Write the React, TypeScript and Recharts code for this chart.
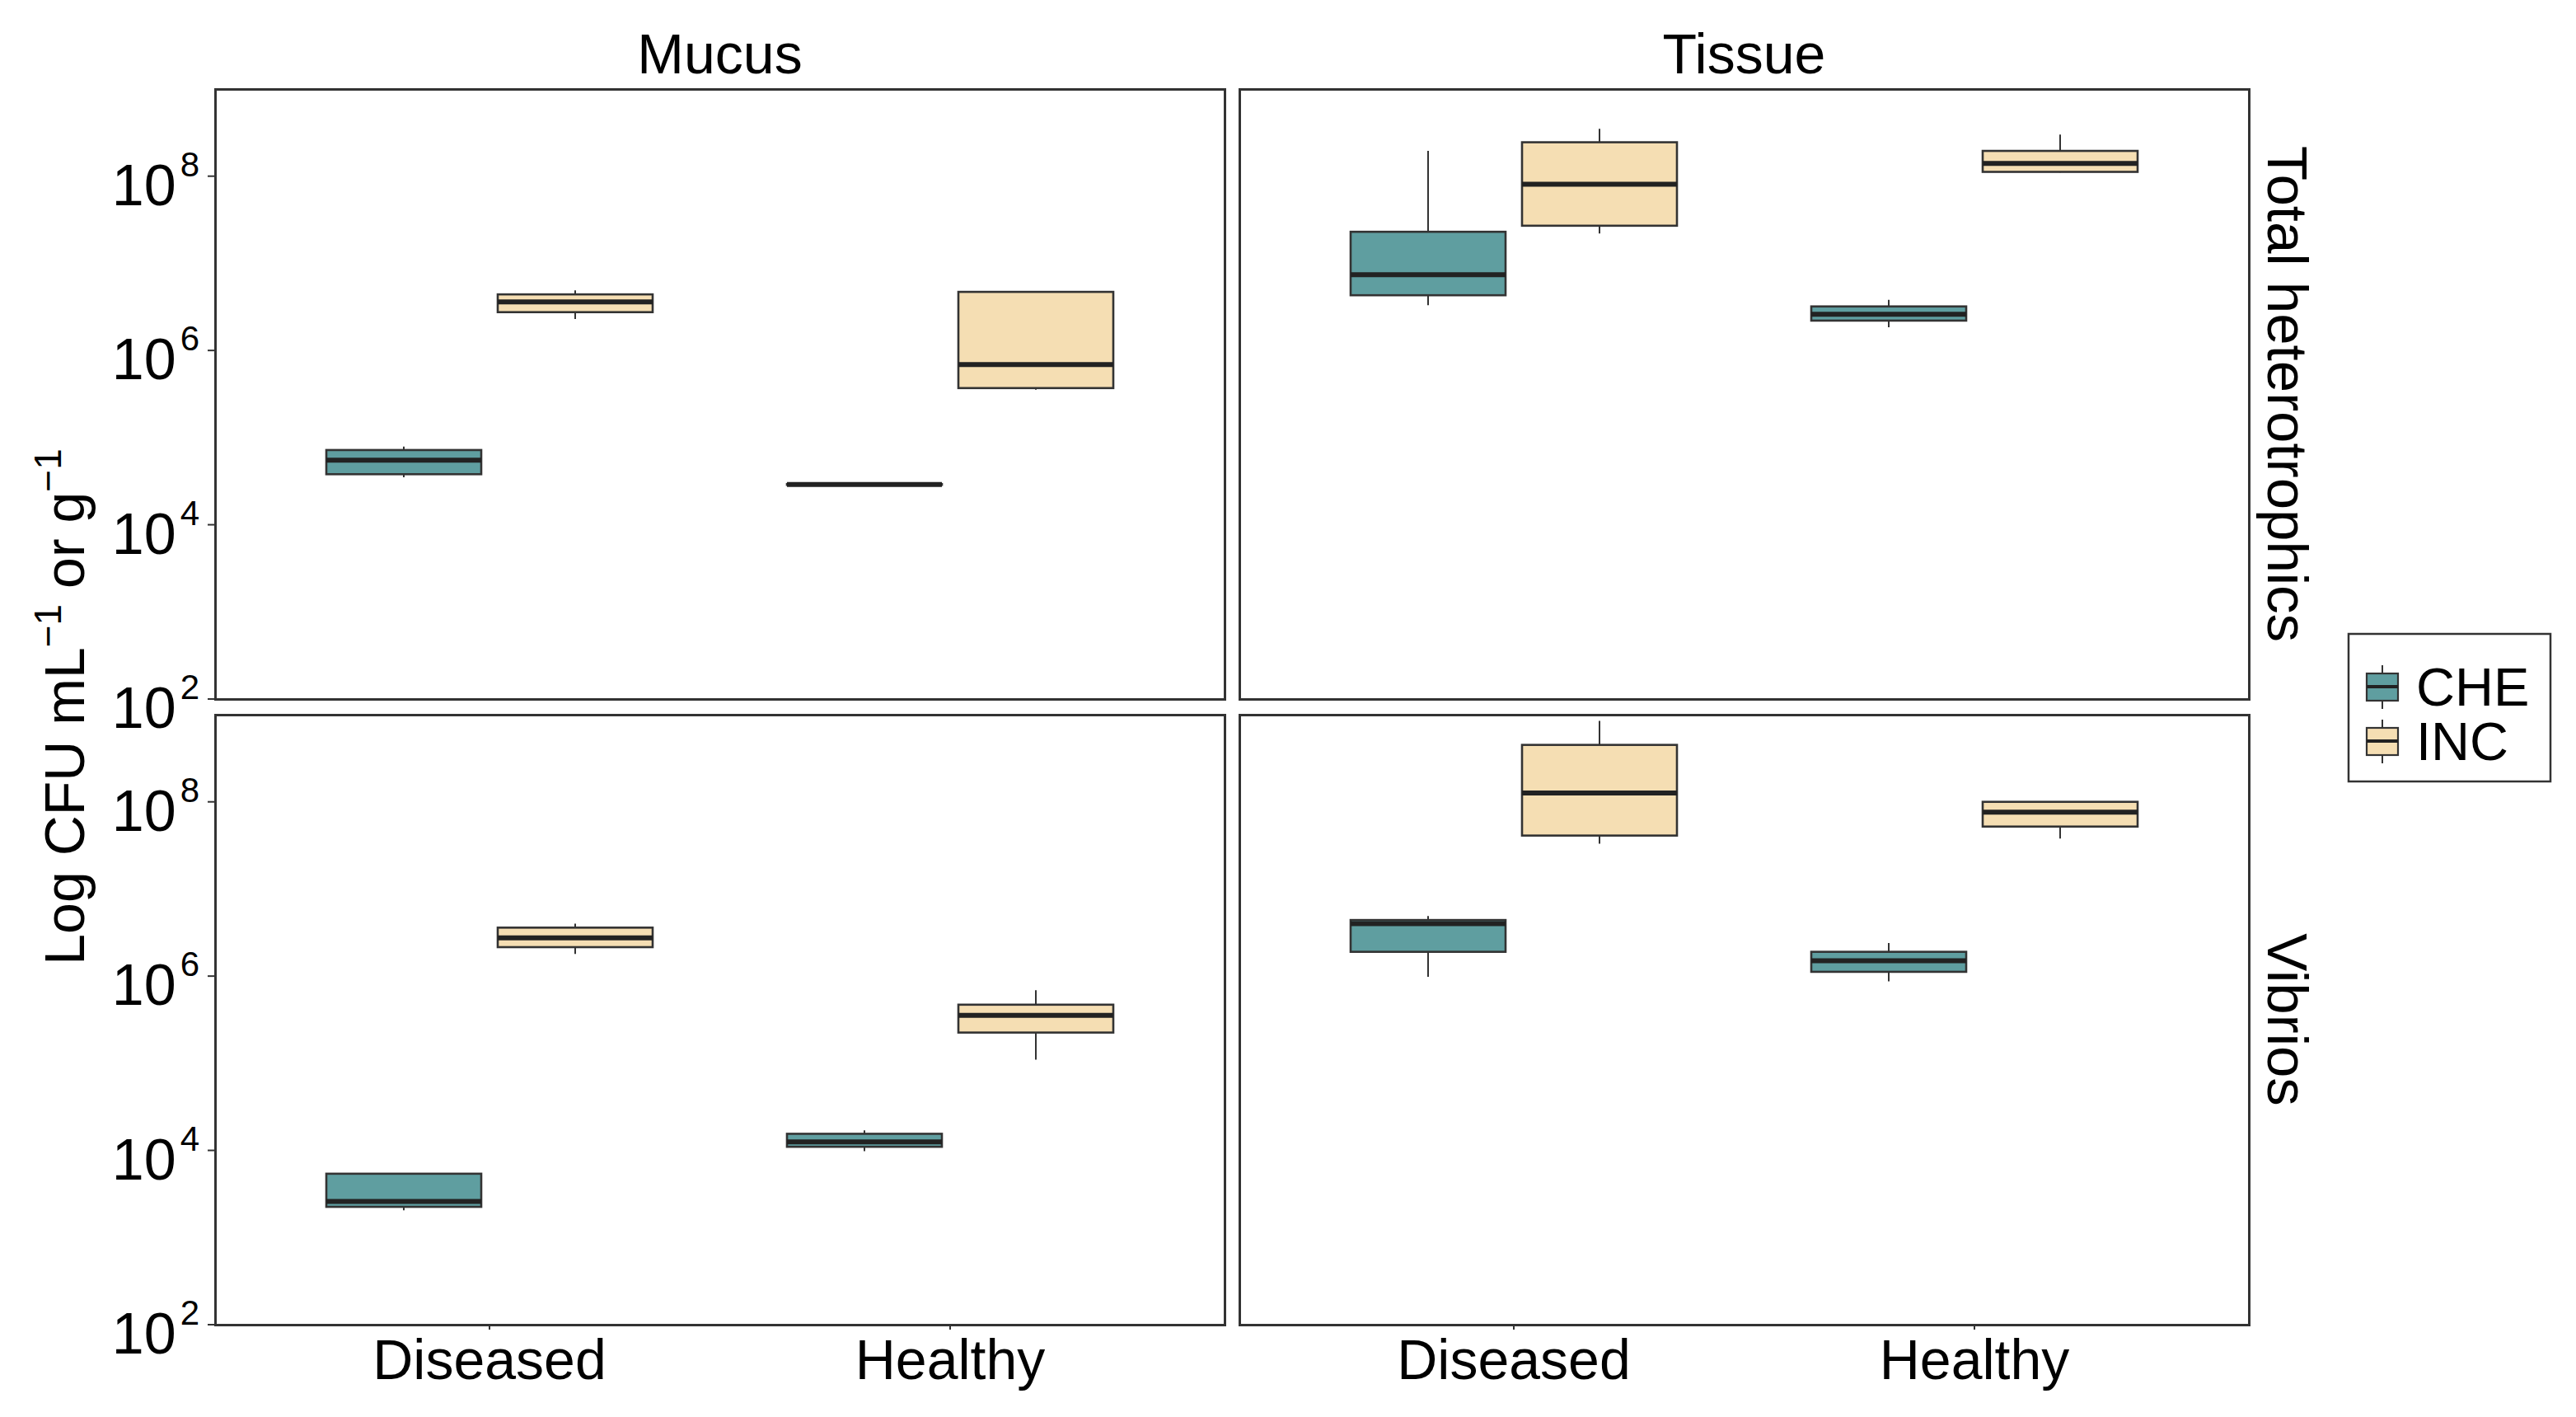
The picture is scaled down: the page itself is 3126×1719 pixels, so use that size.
import React from 'react';
import { BarChart, Bar, XAxis, YAxis } from 'recharts';

// ---- data (CFU values) ----
const categories = ['Diseased', 'Healthy'];
const groups = ['CHE', 'INC'];
const tissues = ['Mucus', 'Tissue'];
const measures = ['Total heterotrophics', 'Vibrios'];
const yTickExponents = [2, 4, 6, 8];

// each box: [min, q1, median, q3, max]; one entry per category (Diseased, Healthy)
const mucusTotalCHE = [
  [3.5e4, 3.8e4, 5.5e4, 7.2e4, 7.9e4],
  [2.85e4, 2.87e4, 2.9e4, 2.93e4, 2.95e4],
];
const mucusTotalINC = [
  [2.3e6, 2.75e6, 3.6e6, 4.4e6, 4.9e6],
  [3.55e5, 3.7e5, 6.9e5, 4.7e6, 4.7e6],
];
const tissueTotalCHE = [
  [3.3e6, 4.3e6, 7.4e6, 2.3e7, 1.95e8],
  [1.85e6, 2.2e6, 2.6e6, 3.2e6, 3.8e6],
];
const tissueTotalINC = [
  [2.2e7, 2.7e7, 8.1e7, 2.45e8, 3.5e8],
  [1.1e8, 1.12e8, 1.4e8, 1.95e8, 3.0e8],
];
const mucusVibrioCHE = [
  [2.05e3, 2.25e3, 2.6e3, 5.4e3, 5.4e3],
  [9.8e3, 1.1e4, 1.25e4, 1.55e4, 1.7e4],
];
const mucusVibrioINC = [
  [1.8e6, 2.15e6, 2.75e6, 3.6e6, 4.0e6],
  [1.1e5, 2.25e5, 3.55e5, 4.7e5, 6.9e5],
];
const tissueVibrioCHE = [
  [9.8e5, 1.9e6, 4.0e6, 4.4e6, 4.9e6],
  [8.7e5, 1.12e6, 1.5e6, 1.9e6, 2.4e6],
];
const tissueVibrioINC = [
  [3.3e7, 4.1e7, 1.26e8, 4.5e8, 8.5e8],
  [3.8e7, 5.2e7, 7.6e7, 1.0e8, 1.0e8],
];

const colors: Record<string, string> = { CHE: '#5F9EA0', INC: '#F5DEB3' };
const FONT = '"Liberation Sans", Arial, Helvetica, sans-serif';
const LINE = '#333333';

// ---- layout ----
const PW = 1225;
const PH = 740;
const PX = [261, 1504];
const PY = [108, 867];
const YAXW = 261;

function buildData(che: number[][], inc: number[][]) {
  return categories.map((c, i) => {
    const cl = che[i].map((v) => Math.log10(v));
    const il = inc[i].map((v) => Math.log10(v));
    return {
      cat: c,
      CHE: [cl[0], cl[4]],
      CHEs: cl,
      INC: [il[0], il[4]],
      INCs: il,
    };
  });
}

const panels = [
  { row: 0, col: 0, data: buildData(mucusTotalCHE, mucusTotalINC) },
  { row: 0, col: 1, data: buildData(tissueTotalCHE, tissueTotalINC) },
  { row: 1, col: 0, data: buildData(mucusVibrioCHE, mucusVibrioINC) },
  { row: 1, col: 1, data: buildData(tissueVibrioCHE, tissueVibrioINC) },
];

function BoxShape(props: any) {
  const { x, y, width, height, payload, group } = props;
  const stats: number[] = payload[group + 's'];
  const top = Math.min(y, y + height);
  const bot = Math.max(y, y + height);
  const [mn, q1, md, q3, mx] = stats;
  const span = mx - mn;
  const py = (v: number) => (span > 0 ? top + ((bot - top) * (mx - v)) / span : top);
  const cx = x + width / 2;
  return (
    <g>
      <line x1={cx} x2={cx} y1={py(mx)} y2={py(q3)} stroke={LINE} strokeWidth={2} />
      <line x1={cx} x2={cx} y1={py(q1)} y2={py(mn)} stroke={LINE} strokeWidth={2} />
      <rect
        x={x}
        y={py(q3)}
        width={width}
        height={Math.max(0, py(q1) - py(q3))}
        fill={colors[group]}
        stroke={LINE}
        strokeWidth={2.6}
      />
      <line x1={x} x2={x + width} y1={py(md)} y2={py(md)} stroke="#222" strokeWidth={6} />
    </g>
  );
}

const YTick = (props: any) => {
  const { x, y, payload } = props;
  return (
    <text x={x} y={y + 35} textAnchor="end" fontSize={70} fill="#000" fontFamily={FONT}>
      10
      <tspan dx={5} dy={-35} fontSize={42}>
        {payload.value}
      </tspan>
    </text>
  );
};

const XTick = (props: any) => {
  const { x, y, payload } = props;
  return (
    <text x={x} y={y + 60} textAnchor="middle" fontSize={68} fill="#000" fontFamily={FONT}>
      {payload.value}
    </text>
  );
};

function Panel({ row, col, data }: any) {
  const isLeft = col === 0;
  const isBottom = row === 1;
  const xAxH = isBottom ? 110 : 70;
  const w = PW + (isLeft ? YAXW : 0);
  const h = PH + xAxH;
  const left = PX[col] - (isLeft ? YAXW : 0);
  return (
    <div style={{ position: 'absolute', left, top: PY[row], width: w, height: h, zIndex: isBottom ? 1 : 2 }}>
      <BarChart
        width={w}
        height={h}
        data={data}
        margin={{ top: 0, right: 0, left: 0, bottom: isBottom ? 0 : xAxH }}
        barCategoryGap={81.5}
        barGap={20}
        style={{ overflow: 'visible' }}
      >
        <XAxis
          dataKey="cat"
          hide={!isBottom}
          height={isBottom ? xAxH : 0}
          padding={{ left: 53.5, right: 53.5 }}
          axisLine={false}
          tickLine={{ stroke: LINE, strokeWidth: 2 }}
          tickSize={6}
          tickMargin={0}
          tick={<XTick />}
          interval={0}
        />
        <YAxis
          type="number"
          domain={[2, 9]}
          allowDataOverflow
          ticks={yTickExponents}
          hide={!isLeft}
          width={isLeft ? YAXW : 0}
          axisLine={false}
          tickLine={{ stroke: LINE, strokeWidth: 2 }}
          tickSize={9}
          tickMargin={10}
          tick={<YTick />}
          interval={0}
        />
        {groups.map((g) => (
          <Bar
            key={g}
            dataKey={g}
            fill={colors[g]}
            isAnimationActive={false}
            shape={(p: any) => <BoxShape {...p} group={g} />}
          />
        ))}
      </BarChart>
    </div>
  );
}

export default function App() {
  return (
    <div
      style={{
        position: 'absolute',
        left: 0,
        top: 0,
        width: 3126,
        height: 1719,
        background: '#fff',
        fontFamily: FONT,
      }}
    >
      {panels.map((p, i) => (
        <Panel key={i} {...p} />
      ))}
      {panels.map((p, i) => (
        <div
          key={'f' + i}
          style={{
            position: 'absolute',
            left: PX[p.col] - 1.5,
            top: PY[p.row] - 1.5,
            width: PW + 3,
            height: PH + 3,
            border: `3px solid ${LINE}`,
            boxSizing: 'border-box',
            pointerEvents: 'none',
            zIndex: 3,
          }}
        />
      ))}
      <svg
        width={3126}
        height={1719}
        style={{ position: 'absolute', left: 0, top: 0, pointerEvents: 'none', zIndex: 4 }}
      >
        {tissues.map((t, i) => (
          <text
            key={t}
            x={PX[i] + PW / 2}
            y={89}
            textAnchor="middle"
            fontSize={68}
            fill="#000"
            fontFamily={FONT}
          >
            {t}
          </text>
        ))}
        {measures.map((m, i) => (
          <text
            key={m}
            transform={`translate(2752, ${PY[i] + PH / 2}) rotate(90)`}
            textAnchor="middle"
            fontSize={69}
            fill="#000"
            fontFamily={FONT}
          >
            {m}
          </text>
        ))}
        <text
          transform={`translate(102, ${(PY[0] + PY[1] + PH) / 2}) rotate(-90)`}
          textAnchor="middle"
          fontSize={68}
          fill="#000"
          fontFamily={FONT}
        >
          Log CFU mL
          <tspan dy={-28} fontSize={46}>
            −1
          </tspan>
          <tspan dy={28}> or g</tspan>
          <tspan dy={-28} fontSize={46}>
            −1
          </tspan>
        </text>
        {/* legend */}
        <rect x={2850} y={769} width={245} height={179} fill="#fff" stroke={LINE} strokeWidth={2.5} />
        {groups.map((g, i) => {
          const cy = 833 + i * 66;
          return (
            <g key={g}>
              <line x1={2891} x2={2891} y1={cy - 26} y2={cy + 27} stroke={LINE} strokeWidth={2} />
              <rect x={2872} y={cy - 16} width={38} height={33} fill={colors[g]} stroke={LINE} strokeWidth={2.2} />
              <line x1={2872} x2={2910} y1={cy} y2={cy} stroke="#222" strokeWidth={4} />
              <text x={2932} y={cy + 23} fontSize={65} fill="#000" fontFamily={FONT}>
                {g}
              </text>
            </g>
          );
        })}
      </svg>
    </div>
  );
}
